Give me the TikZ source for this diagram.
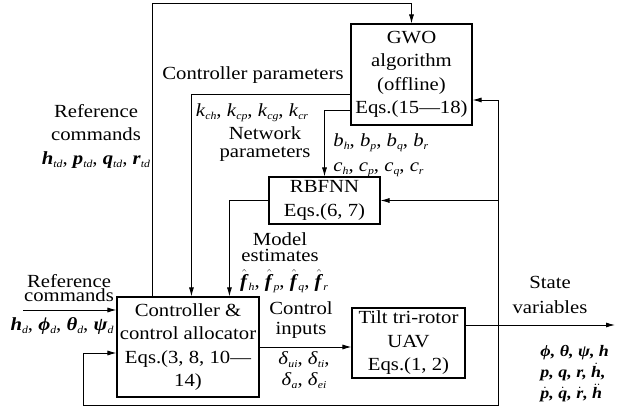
\documentclass[tikz,border=0pt]{standalone}
\usepackage{fontspec}
\setmainfont[FakeStretch=1.12]{Liberation Serif}
\usetikzlibrary{arrows.meta}
\newcommand{\subidx}[1]{\raisebox{-0.35ex}{\fontsize{10.5}{10.5}\selectfont\textit{#1}}}
\newcommand{\bsub}[2]{\textbf{\textit{#1}}\subidx{#2}}
\newcommand{\isub}[2]{\textit{#1}\subidx{#2}}
\newcommand{\bhat}[1]{$\hat{\mbox{\textbf{\textit{f}}}}$\subidx{#1}}
\newcommand{\bdot}[1]{$\dot{\mbox{\textbf{\textit{#1}}}}$}
\newcommand{\bddot}[1]{$\ddot{\mbox{\textbf{\textit{#1}}}}$}
\begin{document}
\begin{tikzpicture}[x=1pt,y=-1pt,line width=0.9pt,>={Latex[length=9pt,width=5pt]},
  every node/.style={font=\fontsize{18.5}{23.5}\selectfont}]

\tikzstyle{box}=[draw=black, line width=1.1pt, align=center, inner sep=0pt]
\tikzstyle{lbl}=[align=center, inner sep=0pt]

\useasboundingbox (0,0) rectangle (622,411);

% blocks
\node[box, minimum width=121pt, minimum height=101pt] (gwo) at (411.5,74.5) {GWO\\algorithm\\(offline)\\Eqs.(15---18)};
\node[box, minimum width=111pt, minimum height=47pt] (rbf) at (324.5,200.5) {RBFNN\\Eqs.(6, 7)};
\node[box, minimum width=142pt, minimum height=100pt] (ctrl) at (188,347) {Controller \&\\control allocator\\Eqs.(3, 8, 10---\\14)};
\node[box, minimum width=113pt, minimum height=70pt] (uav) at (408.5,343) {Tilt tri-rotor\\UAV\\Eqs.(1, 2)};

\coordinate (refin) at (23,310);
\coordinate (out) at (615,325);
\coordinate (fb) at (498,325);
\coordinate (fbl) at (83,405);

% connectors
\draw[->] ([xshift=36pt]ctrl.north west) |- ([yshift=20pt]gwo.north) -- (gwo.north);
\draw[->] ([yshift=-19.5pt]gwo.west) -| ([xshift=75pt]ctrl.north west);
\draw[->] ([yshift=-35.5pt]gwo.west) -| (rbf.north);
\draw[->] (rbf.west) -| ([xshift=113pt]ctrl.north west);
\draw[->] (refin) -- (refin -| ctrl.west);
\draw[->] (ctrl.east) -- (ctrl.east -| uav.west);
\draw[->] (uav.east |- out) -- (out);
\draw[->] (fb) |- ([yshift=-25.5pt]gwo.east);
\draw[->] (fb |- rbf.east) -- (rbf.east);
\draw[->] (fb) |- (fbl) |- ([yshift=-6pt]ctrl.west);

% labels
\node[lbl] (cplab) at (253,75) {Controller parameters};
\node[lbl] (klab) at (252,113) {\isub{k}{ch}, \isub{k}{cp}, \isub{k}{cg}, \isub{k}{cr}};
\node[lbl, font=\fontsize{18.5}{18}\selectfont] (nplab) at (265,144) {Network\\parameters};
\node[lbl, align=left, anchor=west, font=\fontsize{18.5}{25}\selectfont] (bclab) at (333,155) {\isub{b}{h}, \isub{b}{p}, \isub{b}{q}, \isub{b}{r}\\\isub{c}{h}, \isub{c}{p}, \isub{c}{q}, \isub{c}{r}};
\node[lbl] (reftop) at (96,136) {Reference\\commands\\\bsub{h}{td}, \bsub{p}{td}, \bsub{q}{td}, \bsub{r}{td}};
\node[lbl, font=\fontsize{18.5}{12}\selectfont] (reflow) at (69,288) {Reference\\commands};
\node[lbl] (hdlab) at (62,326) {\bsub{h}{d}, \bsub{ϕ}{d}, \bsub{θ}{d}, \bsub{ψ}{d}};
\node[lbl, font=\fontsize{18.5}{16}\selectfont] (melab) at (280,247) {Model\\estimates};
\node[lbl] (fhlab) at (284,281) {\bhat{h}, \bhat{p}, \bhat{q}, \bhat{r}};
\node[lbl, font=\fontsize{18.5}{20}\selectfont] (cilab) at (301,320) {Control\\inputs};
\node[lbl, font=\fontsize{18.5}{21}\selectfont] (dlab) at (304,370) {\isub{δ}{ui}, \isub{δ}{ti},\\\isub{δ}{a}, \isub{δ}{ei}};
\node[lbl, font=\fontsize{18.5}{25}\selectfont] (svlab) at (550,295) {State\\variables};
\node[lbl, align=left, anchor=west, font=\fontsize{16}{21}\selectfont\bfseries\itshape] (xlab) at (540,374) {ϕ, θ, ψ, \textit{h}\\\textit{p}, \textit{q}, \textit{r}, \bdot{h},\\\bdot{p}, \bdot{q}, \bdot{r}, \bddot{h}};
\end{tikzpicture}
\end{document}
